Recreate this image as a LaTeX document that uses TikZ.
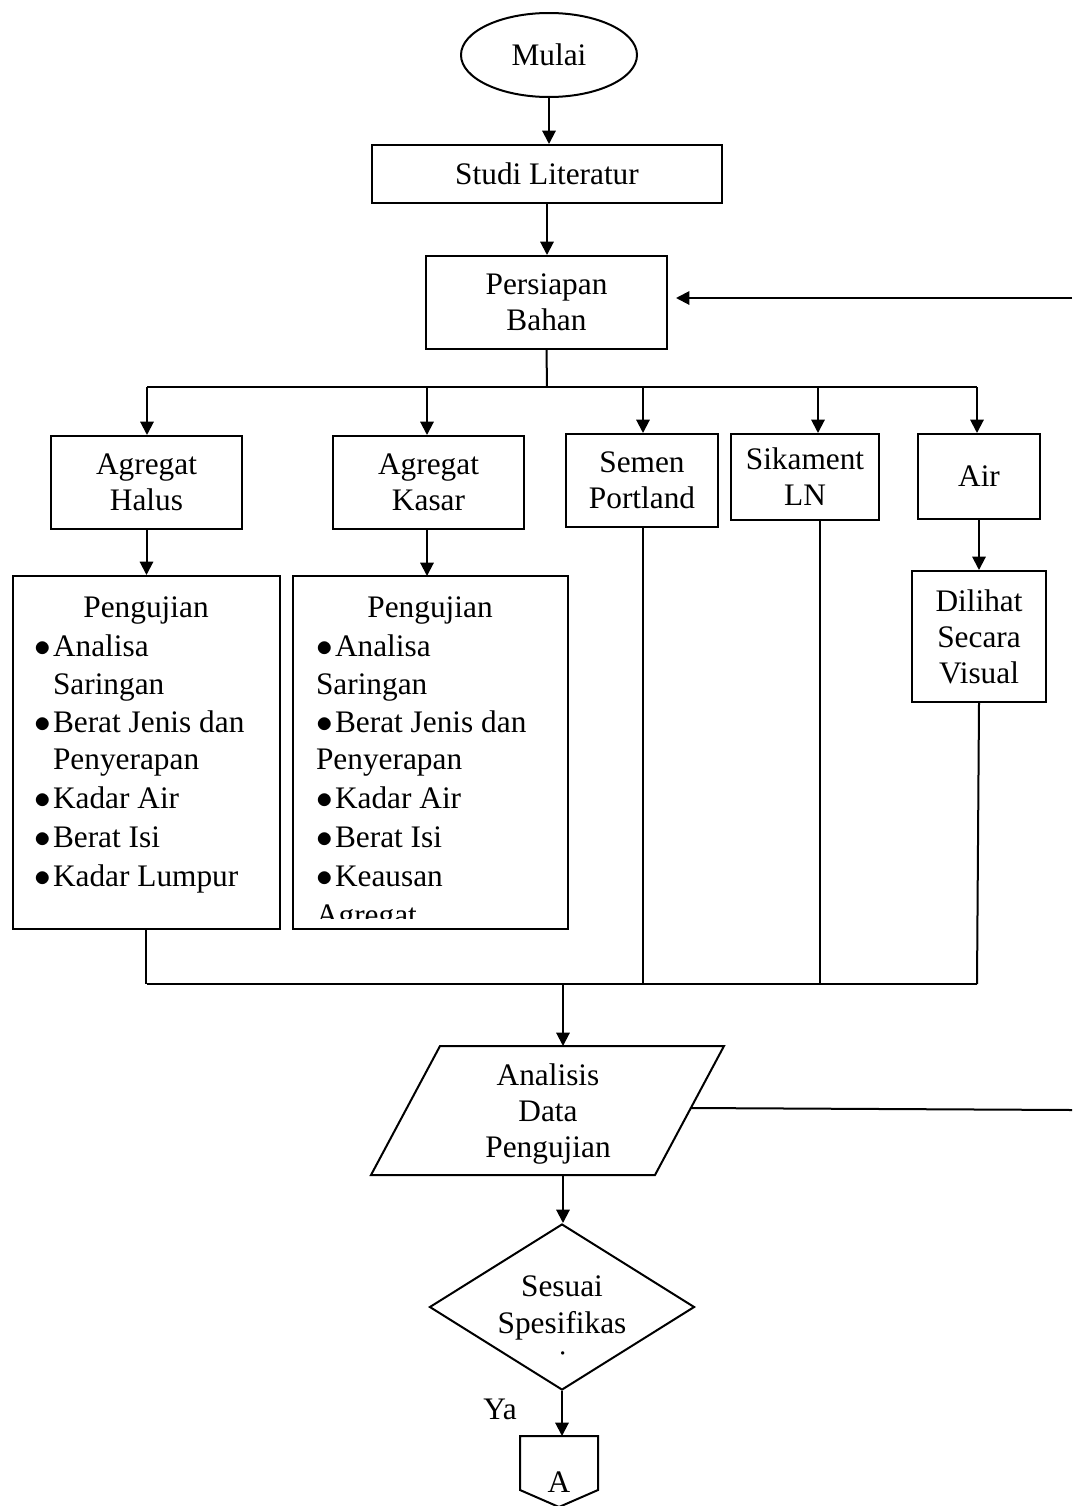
\documentclass[tikz,border=0pt]{standalone}
\usepackage{fontspec}
\setmainfont{Liberation Serif}
\usetikzlibrary{arrows.meta,shapes.geometric}
\begin{document}
\begin{tikzpicture}[x=0.75pt,y=-0.75pt, line width=1.5pt,
  font=\fontsize{23.5}{27}\selectfont,
  box/.style={draw, rectangle, inner sep=0pt, align=center},
  arr/.style={-{Triangle[length=10pt,width=10pt]}},
  txt/.style={inner sep=0pt, anchor=base west},
  ctxt/.style={inner sep=0pt, anchor=base},
  bul/.style={inner sep=0pt, anchor=base west, font=\fontsize{23.5}{27}\selectfont},
]
\useasboundingbox (0,0) rectangle (1072,1506);

% main nodes
\node[draw, ellipse, minimum width=132pt, minimum height=63pt, inner sep=0pt] (mulai) at (549,55) {Mulai};
\node[box, minimum width=262.5pt, minimum height=43.5pt] (studi) at (547,174) {Studi Literatur};
\node[box, minimum width=180.75pt, minimum height=69.75pt] (persiapan) at (546.5,302.5) {Persiapan\\Bahan};

\node[box, minimum width=143.25pt, minimum height=69.75pt] (halus) at (146.5,482.5) {Agregat\\Halus};
\node[box, minimum width=143.25pt, minimum height=69.75pt] (kasar) at (428.5,482.5) {Agregat\\Kasar};
\node[box, minimum width=114pt, minimum height=69.75pt] (semen) at (642,480.5) {Semen\\Portland};
\node[box, minimum width=111pt, minimum height=64.5pt] (sika) at (805,477) {Sikament\\LN};
\node[box, minimum width=91.5pt, minimum height=63.75pt] (air) at (979,476.5) {Air};

\node[box, minimum width=200.25pt, minimum height=264.75pt] (peng1) at (146,752.5) {};
\node[box, minimum width=206.25pt, minimum height=264.75pt] (peng2) at (430.5,752.5) {};
\node[box, minimum width=100.5pt, minimum height=98.25pt] (dilihat) at (979,636.5) {Dilihat\\Secara\\Visual};

% list in box 1
\node[ctxt] (p1t) at (146,617) {Pengujian};
\node[bul] (p1b1) at (33,656) {$\bullet$};
\node[txt] (p1l1) at (52,656) {Analisa};
\node[txt] (p1l2) at (52,694) {Saringan};
\node[bul] (p1b3) at (33,732) {$\bullet$};
\node[txt] (p1l3) at (52,732) {Berat Jenis dan};
\node[txt] (p1l4) at (52,769) {Penyerapan};
\node[bul] (p1b5) at (33,808) {$\bullet$};
\node[txt] (p1l5) at (52,808) {Kadar Air};
\node[bul] (p1b6) at (33,847) {$\bullet$};
\node[txt] (p1l6) at (52,847) {Berat Isi};
\node[bul] (p1b7) at (33,886) {$\bullet$};
\node[txt] (p1l7) at (52,886) {Kadar Lumpur};

% list in box 2
\node[ctxt] (p2t) at (430,617) {Pengujian};
\node[bul] (p2b1) at (315,656) {$\bullet$};
\node[txt] (p2l1) at (334,656) {Analisa};
\node[txt] (p2l2) at (315,694) {Saringan};
\node[bul] (p2b3) at (315,732) {$\bullet$};
\node[txt] (p2l3) at (334,732) {Berat Jenis dan};
\node[txt] (p2l4) at (315,769) {Penyerapan};
\node[bul] (p2b5) at (315,808) {$\bullet$};
\node[txt] (p2l5) at (334,808) {Kadar Air};
\node[bul] (p2b6) at (315,847) {$\bullet$};
\node[txt] (p2l6) at (334,847) {Berat Isi};
\node[bul] (p2b7) at (315,886) {$\bullet$};
\node[txt] (p2l7) at (334,886) {Keausan};
\begin{scope}
  \clip (295,900) rectangle (566,918);
  \node[txt] (p2l8) at (315,925) {Agregat};
\end{scope}

% parallelogram
\coordinate (q1) at (440,1046);
\coordinate (q2) at (724,1046);
\coordinate (q3) at (655,1175);
\coordinate (q4) at (371,1175);
\draw (q1) -- (q2) -- (q3) -- (q4) -- cycle;
\node[inner sep=0pt, align=center] (analisis) at (548,1114) {Analisis\\Data\\Pengujian};

% diamond
\node[draw, diamond, minimum width=198.75pt, minimum height=124.5pt, inner sep=0pt] (dia) at (562,1307) {};
\node[inner sep=0pt, align=center, font=\fontsize{23.5}{27.75}\selectfont] (diatext) at (562,1307.5) {Sesuai\\Spesifikas};
\begin{scope}
  \clip (540,1340) rectangle (590,1356);
  \node[ctxt] (diai) at (563,1372) {i};
\end{scope}
\node (ya) at (500,1409) {Ya};

% off-page connector A
\coordinate (a1) at (520,1436);
\coordinate (a2) at (598,1436);
\coordinate (a3) at (598,1490);
\coordinate (a4) at (559,1507);
\coordinate (a5) at (520,1490);
\draw (a1) -- (a2) -- (a3) -- (a4) -- (a5) -- cycle;
\node (alabel) at (559,1482) {A};

% connectors top
\draw[arr] (mulai.south) -- (mulai.south |- studi.north);
\draw[arr] (studi.south) -- (studi.south |- persiapan.north);
\coordinate (r1) at (1072,298);
\draw[arr, shorten >=6pt] (r1) -- (persiapan.east |- r1);

\coordinate (b0) at (547,387);
\coordinate (bL) at (147,387);
\coordinate (bR) at (977,387);
\coordinate (bK) at (427,387);
\coordinate (bS) at (643,387);
\coordinate (bN) at (818,387);
\draw (persiapan.south) -- (b0);
\draw (bL) -- (bR);
\draw[arr] (bL) -- (bL |- halus.north);
\draw[arr] (bK) -- (bK |- kasar.north);
\draw[arr] (bS) -- (bS |- semen.north);
\draw[arr] (bN) -- (bN |- sika.north);
\draw[arr] (bR) -- (bR |- air.north);

\draw[arr] (halus.south) -- (halus.south |- peng1.north);
\draw[arr] (427,529) -- (427,576);
\draw[arr] (air.south) -- (air.south |- dilihat.north);

% lower bus
\coordinate (cL) at (147,984);
\coordinate (cR) at (977,984);
\coordinate (cS) at (643,984);
\coordinate (cN) at (820,984);
\coordinate (cM) at (563,984);
\draw (peng1.south) -- (peng1.south |- cL);
\draw (cS |- semen.south) -- (cS);
\draw (cN |- sika.south) -- (cN);
\draw (dilihat.south) -- (cR);
\draw (cL) -- (cR);
\coordinate (qt) at (563,1046);
\draw[arr] (cM) -- (qt);

% right return line from analysis
\coordinate (qr) at (691,1108);
\coordinate (r2) at (1072,1110);
\draw (qr) -- (r2);

\coordinate (qb) at (563,1175);
\draw[arr] (qb) -- (qb |- dia.north);
\draw[arr] (dia.south) -- (dia.south |- a1);
\end{tikzpicture}
\end{document}
